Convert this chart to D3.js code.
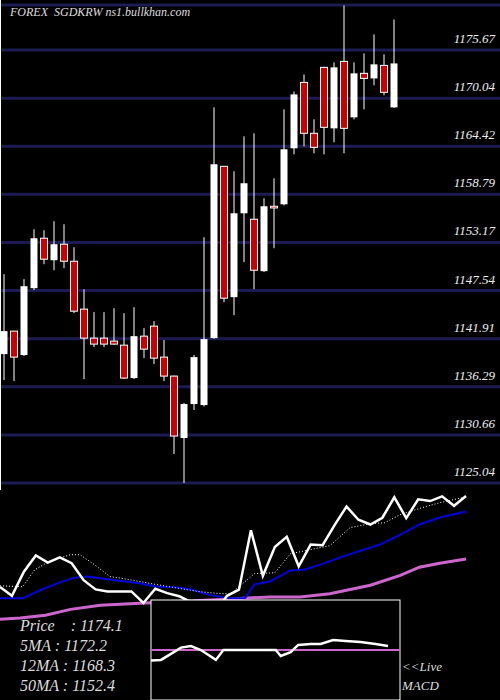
<!DOCTYPE html>
<html><head><meta charset="utf-8">
<script src="https://cdn.jsdelivr.net/npm/d3@7"></script>
<style>body{margin:0;background:#000}svg{display:block}</style>
</head><body>
<svg id="c" width="500" height="700"></svg>
<script>
const opens  = [1140.11,1142.80,1140.00,1147.82,1153.66,1151.09,1152.96,1150.97,1145.37,1141.98,1141.98,1141.63,1141.16,1137.31,1142.21,1143.38,1139.76,1137.54,1130.30,1134.27,1134.15,1141.98,1162.07,1146.77,1156.58,1155.88,1149.81,1157.40,1157.63,1164.18,1171.88,1165.93,1173.64,1166.51,1174.34,1167.80,1172.94,1172.35,1173.87,1168.96];
const highs  = [1149.46,1142.80,1148.87,1154.71,1154.60,1155.65,1155.30,1152.61,1147.70,1145.02,1145.02,1145.48,1144.90,1145.60,1143.15,1143.97,1141.75,1137.60,1134.40,1140.00,1153.78,1168.96,1162.10,1161.49,1165.58,1165.93,1158.33,1160.67,1168.73,1170.83,1172.82,1167.56,1173.70,1174.22,1180.88,1174.22,1175.27,1177.49,1175.16,1179.24];
const lows   = [1137.07,1136.96,1139.90,1147.60,1150.62,1149.92,1150.16,1144.90,1137.19,1140.93,1140.93,1141.20,1137.20,1137.20,1139.64,1138.94,1136.96,1128.43,1125.04,1133.57,1134.00,1141.90,1146.18,1144.67,1150.86,1147.70,1149.70,1152.49,1157.50,1163.47,1164.41,1163.59,1163.47,1164.88,1163.59,1167.56,1168.73,1171.54,1170.37,1168.90];
const closes = [1142.80,1139.76,1148.05,1153.66,1151.21,1152.96,1150.97,1145.13,1141.98,1141.28,1141.28,1141.28,1137.31,1142.21,1140.69,1139.64,1137.54,1130.53,1134.27,1139.76,1141.86,1162.31,1146.65,1156.58,1160.09,1149.92,1157.40,1157.20,1164.06,1170.48,1165.93,1164.29,1166.63,1173.64,1166.51,1172.94,1172.35,1173.99,1170.72,1174.10];
const gridValues = [1125.04,1130.66,1136.29,1141.91,1147.54,1153.17,1158.79,1164.42,1170.04,1175.67];
const topGrid = 1180.93;
const ma5  = [[0,1143.2],[1.9,1142.9],[2.9,1148.7],[4.2,1151.8],[5.9,1153.9],[6.7,1153.9],[7.9,1150.5],[9.2,1146.4],[10.9,1145.3],[12.6,1144.0],[14.6,1142.6],[16.7,1141.2],[18.5,1140.5],[19.3,1140.5],[21.3,1147.4],[23.0,1147.7],[24.3,1154.2],[25.9,1155.6],[27.6,1157.0],[29.3,1163.2],[31.0,1164.6],[32.2,1164.9],[33.5,1167.7],[35.1,1169.8],[36.8,1171.8],[39,1173.8]];
const ma12 = [[0,1138.9],[1.9,1138.9],[3.3,1141.6],[5.0,1144.4],[6.3,1146.1],[7.4,1146.4],[8.4,1145.8],[9.6,1145.1],[11.7,1144.1],[13.0,1143.0],[14.6,1142.7],[15.9,1142.0],[17.6,1140.0],[19.3,1138.9],[20.5,1138.9],[21.3,1143.7],[22.6,1144.7],[24.3,1148.5],[25.5,1148.8],[26.8,1150.5],[28.9,1153.6],[31.8,1157.4],[33.5,1160.8],[35.1,1164.3],[36.8,1166.7],[39,1168.8]];
const ma50 = [[0,1131.7],[1.7,1132.1],[3.8,1133.1],[5.9,1135.1],[8.4,1136.5],[11.7,1137.2],[15.9,1138.0],[19.3,1138.7],[22.6,1139.4],[25.1,1139.4],[27.6,1140.5],[31.0,1143.4],[33.5,1146.8],[35.1,1149.6],[36.8,1151.0],[39,1152.4]];
const macd = [[0,-0.35],[0.4,-0.33],[0.8,-0.13],[1.2,0.08],[1.6,0.13],[2.0,0.0],[2.6,-0.33],[2.9,0.0],[3.2,0.0],[5.0,0.0],[5.2,-0.2],[5.6,-0.07],[5.9,0.17],[6.4,0.2],[6.8,0.2],[7.3,0.33],[7.8,0.3],[8.4,0.27],[9.0,0.2],[9.5,0.13]];
const legend = [["Price   ",1174.1],["5MA",1172.2],["12MA",1168.3],["50MA",1152.4]];

const svg = d3.select("#c");
svg.append("rect").attr("width",500).attr("height",700).attr("fill","#000");
const y = d3.scaleLinear().domain([1125.04,1175.67]).range([483,50]);
const x = d3.scaleLinear().domain([0,39]).range([4,394]);
const gridColor = "#1c1c52";
[...gridValues, topGrid].forEach(v=>{
  svg.append("line").attr("x1",0).attr("x2",500).attr("y1",y(v)).attr("y2",y(v))
    .attr("stroke",gridColor).attr("stroke-width",3);
});
gridValues.forEach(v=>{
  svg.append("text").attr("x",495).attr("y",y(v)-7).attr("text-anchor","end")
    .attr("fill","#eee").attr("font-family","Liberation Serif").attr("font-style","italic")
    .attr("font-size",13).text(v.toFixed(2));
});
svg.append("text").attr("x",10).attr("y",16).attr("fill","#ddd").attr("font-family","Liberation Serif")
  .attr("font-style","italic").attr("font-size",12).attr("xml:space","preserve").text("FOREX  SGDKRW ns1.bullkhan.com");
svg.append("line").attr("x1",0.5).attr("x2",0.5).attr("y1",0).attr("y2",490).attr("stroke","#fff").attr("stroke-width",1);

opens.forEach((o,i)=>{
  const c=closes[i], up=c>=o, cx=x(i);
  svg.append("line").attr("x1",cx).attr("x2",cx).attr("y1",y(highs[i])).attr("y2",y(lows[i])).attr("stroke","#fff").attr("stroke-width",1);
  const top=y(Math.max(o,c)), bot=y(Math.min(o,c));
  svg.append("rect").attr("x",cx-3.5).attr("y",top).attr("width",7).attr("height",Math.max(1.5,bot-top))
    .attr("fill",up?"#fff":"#cc0000").attr("stroke","#fff").attr("stroke-width",up?0:1);
});

const lx = d3.scaleLinear().domain([0,39]).range([0,466]);
const ly = d3.scaleLinear().domain([1142.8,1174.1]).range([587,496]);
const line = d3.line().x(d=>lx(d[0])).y(d=>ly(d[1]));
svg.append("path").attr("d",line(ma50)).attr("fill","none").attr("stroke","#cc66cc").attr("stroke-width",3);
svg.append("path").attr("d",line(ma12)).attr("fill","none").attr("stroke","#0000dd").attr("stroke-width",2);
svg.append("path").attr("d",line(ma5)).attr("fill","none").attr("stroke","#fff").attr("stroke-width",1).attr("stroke-dasharray","1,2");
svg.append("path").attr("d",line(closes.map((c,i)=>[i,c]))).attr("fill","none").attr("stroke","#fff").attr("stroke-width",2.5);

const box = svg.append("g");
box.append("rect").attr("x",151).attr("y",600).attr("width",249).attr("height",100).attr("fill","#000").attr("stroke","#fff").attr("stroke-width",1);
const mx = d3.scaleLinear().domain([0,9.5]).range([151,388]);
const my = d3.scaleLinear().domain([-1,1]).range([680,620]);
box.append("line").attr("x1",151).attr("x2",400).attr("y1",my(0)).attr("y2",my(0)).attr("stroke","#cc66cc").attr("stroke-width",2);
box.append("path").attr("d",d3.line().x(d=>mx(d[0])).y(d=>my(d[1]))(macd)).attr("fill","none").attr("stroke","#fff").attr("stroke-width",2.5);

legend.forEach((d,i)=>{
  svg.append("text").attr("x",20).attr("y",631+i*20).attr("fill","#ddd").attr("font-family","Liberation Serif")
    .attr("font-style","italic").attr("font-size",16).attr("xml:space","preserve").text(d[0]+" : "+d[1]);
});
svg.append("text").attr("x",402).attr("y",671).attr("fill","#ddd").attr("font-family","Liberation Serif").attr("font-style","italic").attr("font-size",13).text("<<Live");
svg.append("text").attr("x",402).attr("y",690).attr("fill","#ddd").attr("font-family","Liberation Serif").attr("font-style","italic").attr("font-size",13).text("MACD");
</script>
</body></html>
